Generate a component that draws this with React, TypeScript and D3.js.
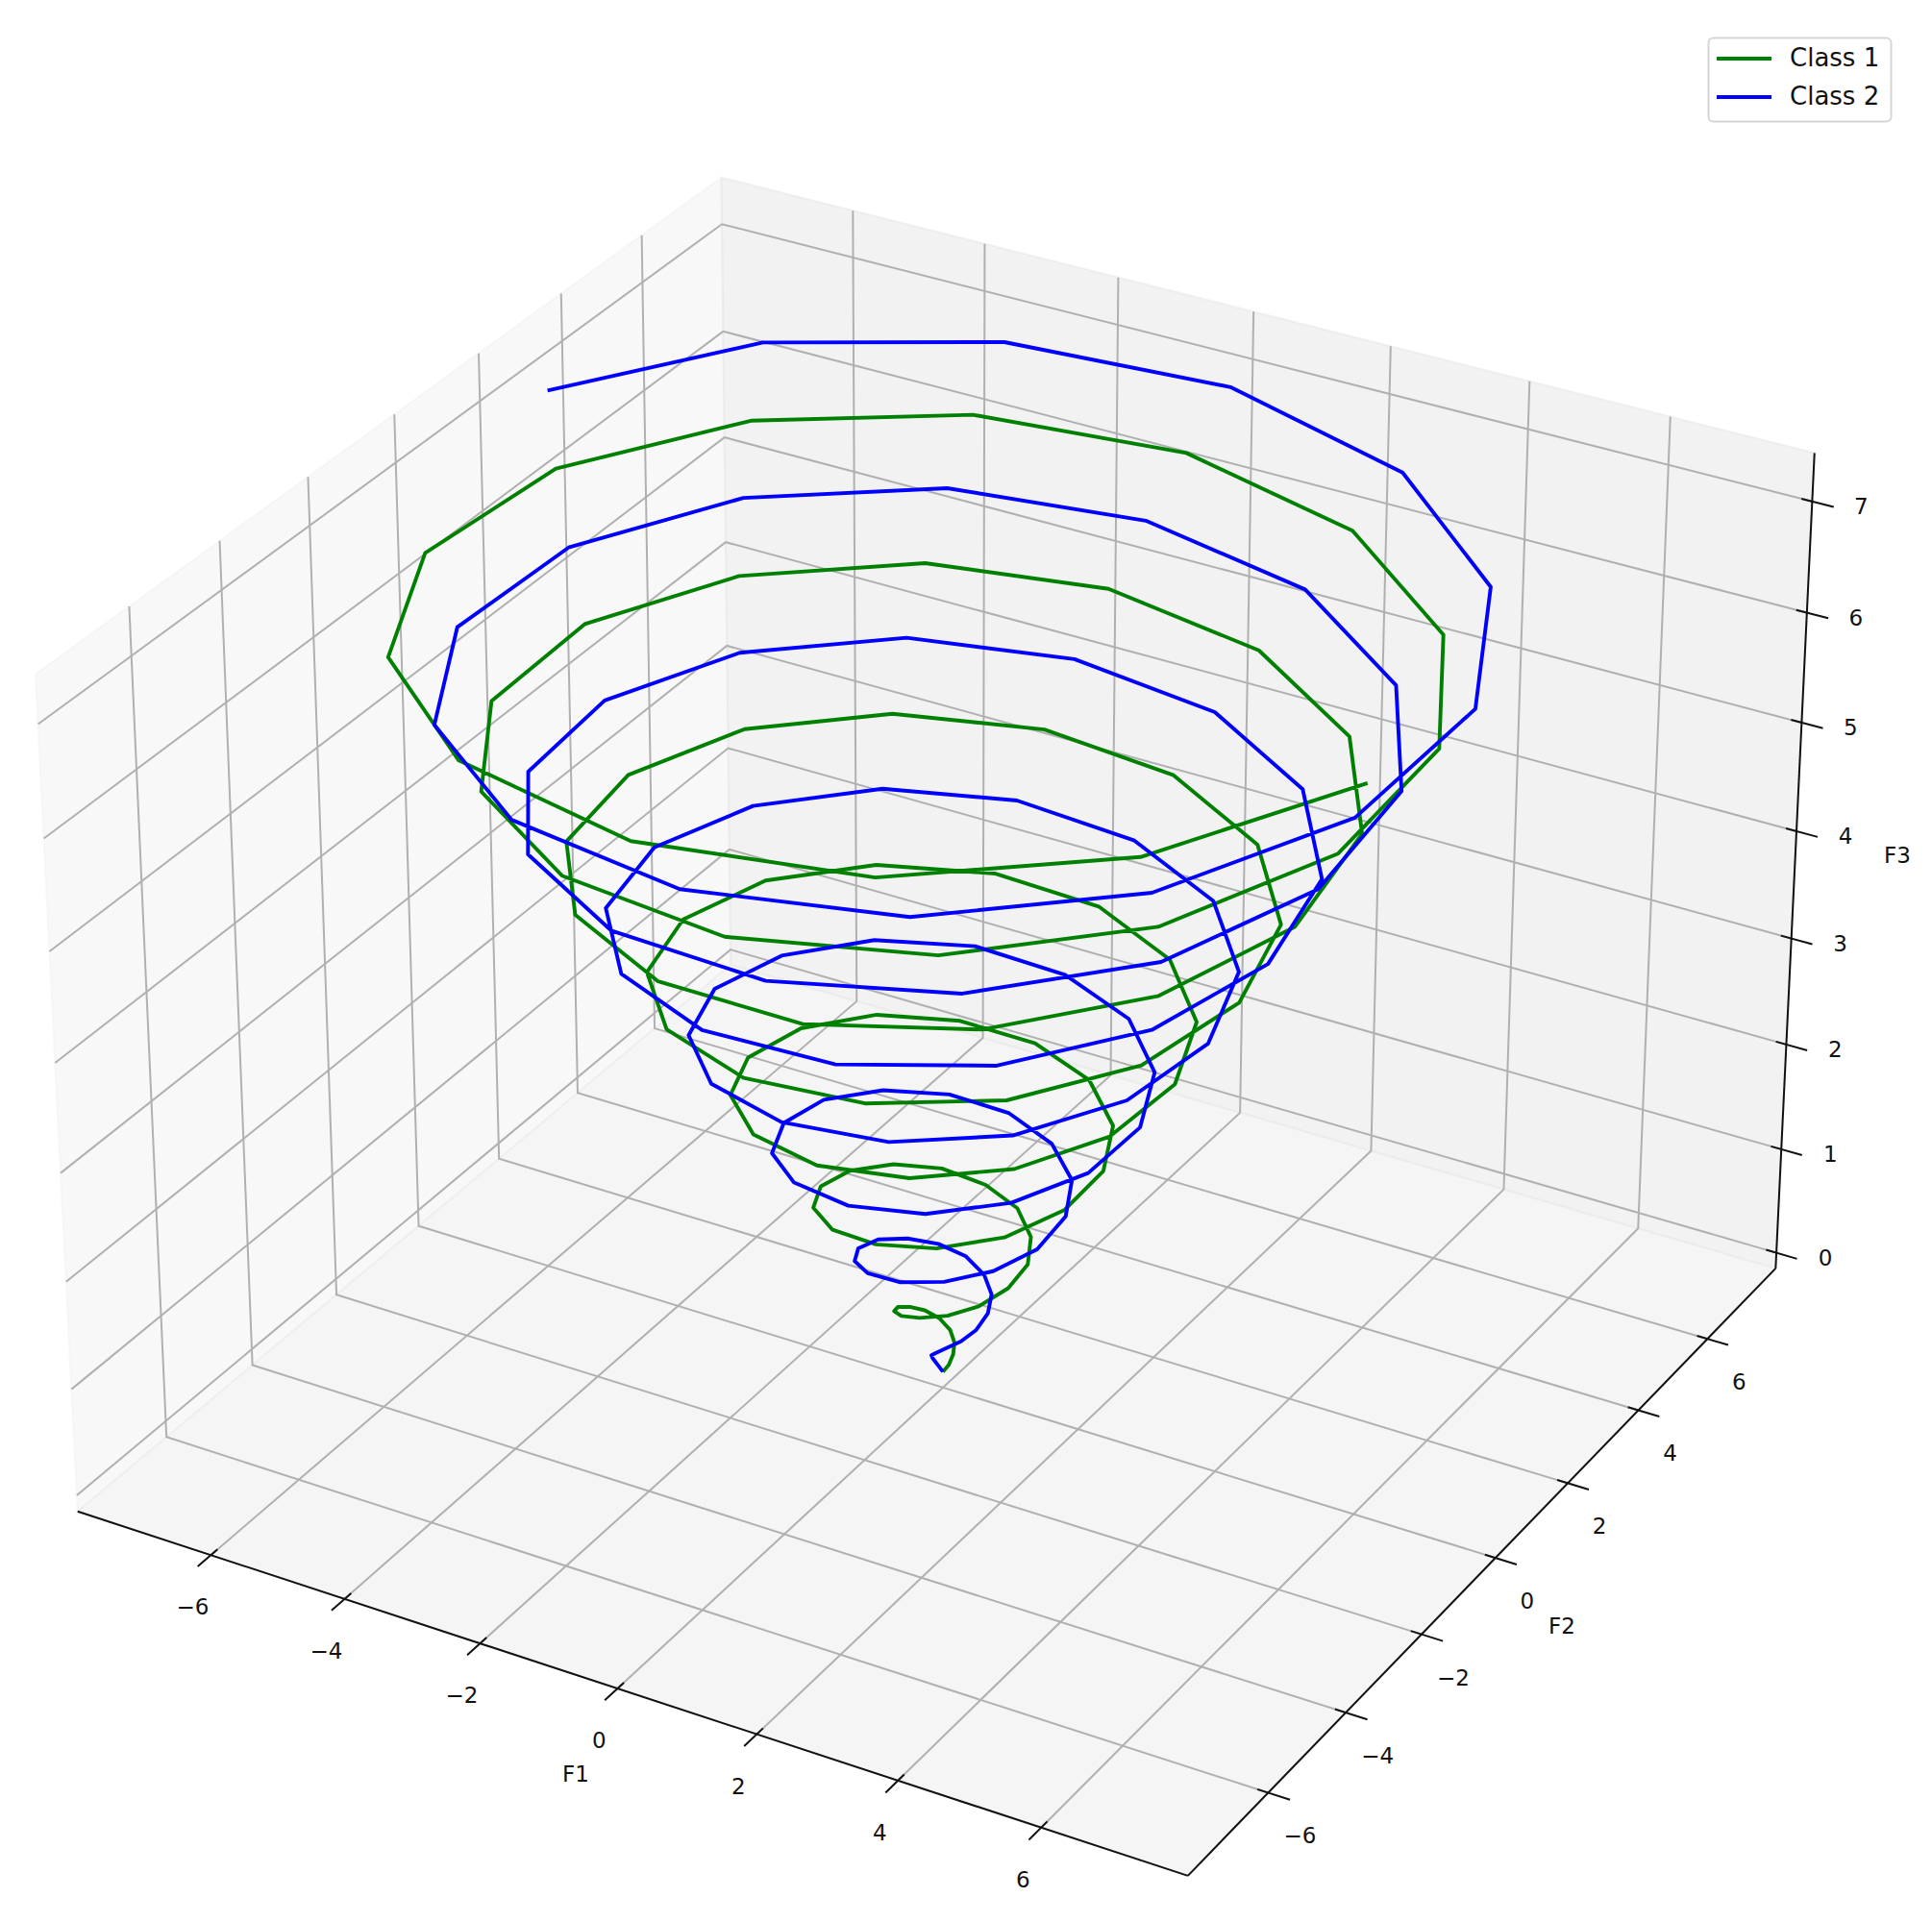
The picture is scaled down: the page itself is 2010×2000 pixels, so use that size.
import React from 'react';
import * as d3 from 'd3';

const class1X=[0.00,0.07,0.09,0.05,-0.06,-0.22,-0.39,-0.51,-0.54,-0.44,
-0.21,0.12,0.49,0.81,1.02,1.04,0.83,0.43,-0.12,-0.71,
-1.21,-1.52,-1.54,-1.26,-0.68,0.08,0.88,1.58,2.01,2.06,
1.71,0.99,0.02,-1.01,-1.91,-2.48,-2.59,-2.19,-1.34,-0.17,
1.09,2.20,2.93,3.12,2.70,1.73,0.38,-1.11,-2.45,-3.36,
-3.65,-3.23,-2.17,-0.63,1.09,2.65,3.76,4.17,3.78,2.64,
0.94,-1.00,-2.81,-4.13,-4.68,-4.34,-3.14,-1.29,0.87,2.92,
4.47,5.19,4.91,3.68,1.69,-0.68,-2.98,-4.77,-5.67,-5.49,
-4.24,-2.14,0.44,2.99,5.02,6.13,6.07,4.83,2.62,-0.14,
-2.95,-5.24,-6.57,-6.65,-5.44,-3.15,-0.21,2.84,5.41,6.97];
const class1Y=[0.00,0.03,0.11,0.21,0.29,0.29,0.21,0.03,-0.22,-0.49,
-0.70,-0.80,-0.73,-0.49,-0.10,0.37,0.82,1.17,1.31,1.20,
0.82,0.24,-0.46,-1.12,-1.62,-1.83,-1.69,-1.19,-0.42,0.50,
1.38,2.04,2.34,2.19,1.60,0.65,-0.49,-1.59,-2.44,-2.85,
-2.72,-2.04,-0.93,0.42,1.75,2.80,3.35,3.26,2.52,1.26,
-0.30,-1.87,-3.13,-3.83,-3.80,-3.03,-1.63,0.13,1.94,3.42,
4.29,4.35,3.56,2.05,0.09,-1.95,-3.67,-4.73,-4.90,-4.12,
-2.51,-0.37,1.91,3.88,5.15,5.45,4.70,3.01,0.69,-1.82,
-4.04,-5.53,-5.99,-5.29,-3.55,-1.07,1.67,4.15,5.88,6.51,
5.89,4.12,1.50,-1.47,-4.21,-6.20,-7.03,-6.51,-4.72,-1.97];
const class2X=[0.00,-0.07,-0.09,-0.05,0.06,0.22,0.39,0.51,0.54,0.44,
0.21,-0.12,-0.49,-0.81,-1.02,-1.04,-0.83,-0.43,0.12,0.71,
1.21,1.52,1.54,1.26,0.68,-0.08,-0.88,-1.58,-2.01,-2.06,
-1.71,-0.99,-0.02,1.01,1.91,2.48,2.59,2.19,1.34,0.17,
-1.09,-2.20,-2.93,-3.12,-2.70,-1.73,-0.38,1.11,2.45,3.36,
3.65,3.23,2.17,0.63,-1.09,-2.65,-3.76,-4.17,-3.78,-2.64,
-0.94,1.00,2.81,4.13,4.68,4.34,3.14,1.29,-0.87,-2.92,
-4.47,-5.19,-4.91,-3.68,-1.69,0.68,2.98,4.77,5.67,5.49,
4.24,2.14,-0.44,-2.99,-5.02,-6.13,-6.07,-4.83,-2.62,0.14,
2.95,5.24,6.57,6.65,5.44,3.15,0.21,-2.84,-5.41,-6.97];
const class2Y=[0.00,-0.03,-0.11,-0.21,-0.29,-0.29,-0.21,-0.03,0.22,0.49,
0.70,0.80,0.73,0.49,0.10,-0.37,-0.82,-1.17,-1.31,-1.20,
-0.82,-0.24,0.46,1.12,1.62,1.83,1.69,1.19,0.42,-0.50,
-1.38,-2.04,-2.34,-2.19,-1.60,-0.65,0.49,1.59,2.44,2.85,
2.72,2.04,0.93,-0.42,-1.75,-2.80,-3.35,-3.26,-2.52,-1.26,
0.30,1.87,3.13,3.83,3.80,3.03,1.63,-0.13,-1.94,-3.42,
-4.29,-4.35,-3.56,-2.05,-0.09,1.95,3.67,4.73,4.90,4.12,
2.51,0.37,-1.91,-3.88,-5.15,-5.45,-4.70,-3.01,-0.69,1.82,
4.04,5.53,5.99,5.29,3.55,1.07,-1.67,-4.15,-5.88,-6.51,
-5.89,-4.12,-1.50,1.47,4.21,6.20,7.03,6.51,4.72,1.97];
const heightZ=[0.00,0.07,0.15,0.22,0.29,0.37,0.44,0.51,0.59,0.66,
0.73,0.81,0.88,0.95,1.03,1.10,1.17,1.25,1.32,1.40,
1.47,1.54,1.62,1.69,1.76,1.84,1.91,1.98,2.06,2.13,
2.20,2.28,2.35,2.42,2.50,2.57,2.64,2.72,2.79,2.86,
2.94,3.01,3.08,3.16,3.23,3.30,3.38,3.45,3.52,3.60,
3.67,3.75,3.82,3.89,3.97,4.04,4.11,4.19,4.26,4.33,
4.41,4.48,4.55,4.63,4.70,4.77,4.85,4.92,4.99,5.07,
5.14,5.21,5.29,5.36,5.43,5.51,5.58,5.65,5.73,5.80,
5.87,5.95,6.02,6.10,6.17,6.24,6.32,6.39,6.46,6.54,
6.61,6.68,6.76,6.83,6.90,6.98,7.05,7.12,7.20,7.27];
const xyTicks=[-6,-4,-2,0,2,4,6];
const zTicks=[0,1,2,3,4,5,6,7];
const classNames=['Class 1','Class 2'];
const classColors=['#008000','#0000ff'];

const c1=class1X.map((x,i)=>[x,class1Y[i],heightZ[i]]);
const c2=class2X.map((x,i)=>[x,class2Y[i],heightZ[i]]);
const tf=(v:number)=>String(v).replace('-','\u2212');
const limXY=[-7.7,7.7],limZ=[0,7.28];
const ext=(a:number[])=>[a[0]-(a[1]-a[0])/48,a[1]+(a[1]-a[0])/48];
const [px0,px1]=ext(limXY),[py0,py1]=ext(limXY),[pz0,pz1]=ext(limZ);
const box=[1.1905,1.1905,0.8929];
const sx=d3.scaleLinear().domain(limXY).range([0,box[0]]);
const sy=d3.scaleLinear().domain(limXY).range([0,box[1]]);
const sz=d3.scaleLinear().domain(limZ).range([0,box[2]]);
const el=30*Math.PI/180,az=-60*Math.PI/180;
const R=box.map(b=>b/2);
const w=[Math.cos(el)*Math.cos(az),Math.cos(el)*Math.sin(az),Math.sin(el)];
const eye=R.map((r,i)=>r+10*w[i]);
const cross=(a:number[],b:number[])=>[a[1]*b[2]-a[2]*b[1],a[2]*b[0]-a[0]*b[2],a[0]*b[1]-a[1]*b[0]];
const nrm=(a:number[])=>{const n=Math.hypot(a[0],a[1],a[2]);return a.map(v=>v/n)};
const u=nrm(cross([0,0,1],w));const v=cross(w,u);
const dot=(a:number[],b:number[])=>a[0]*b[0]+a[1]*b[1]+a[2]*b[2];
const S=10666.9,OX=981,OY=1024;
function pr(x:number,y:number,z:number):[number,number]{
 const d=[sx(x)-eye[0],sy(y)-eye[1],sz(z)-eye[2]];
 const ze=-dot(d,w);
 return [OX+S*dot(d,u)/ze,OY-S*dot(d,v)/ze];
}
const line3=(pts:number[][])=>d3.line()(pts.map(p=>pr(p[0],p[1],p[2])))!;
const GRID='#b0b0b0',AX='#111';
const font='"DejaVu Sans"';
const lab={fontSize:23,textAnchor:'middle',dominantBaseline:'central',fill:'#111'} as any;
export default function App(){
 return <svg width={2010} height={2000} style={{position:'absolute',left:0,top:0}} fontFamily={font}>
  <path d={line3([[px0,py0,pz0],[px0,py1,pz0],[px0,py1,pz1],[px0,py0,pz1]])+'Z'} fill="rgb(242,242,242)" fillOpacity={0.5} stroke="rgb(242,242,242)" strokeOpacity={0.5} strokeWidth={2}/>
  <path d={line3([[px0,py1,pz0],[px1,py1,pz0],[px1,py1,pz1],[px0,py1,pz1]])+'Z'} fill="rgb(230,230,230)" fillOpacity={0.5} stroke="rgb(230,230,230)" strokeOpacity={0.5} strokeWidth={2}/>
  <path d={line3([[px0,py0,pz0],[px0,py1,pz0],[px1,py1,pz0],[px1,py0,pz0]])+'Z'} fill="rgb(236,236,236)" fillOpacity={0.5} stroke="rgb(236,236,236)" strokeOpacity={0.5} strokeWidth={2}/>
  {xyTicks.map(t=><path key={'gx'+t} d={line3([[t,py0,pz0],[t,py1,pz0],[t,py1,pz1]])} fill="none" stroke={GRID} strokeWidth={2}/>)}
  {xyTicks.map(t=><path key={'gy'+t} d={line3([[px0,t,pz1],[px0,t,pz0],[px1,t,pz0]])} fill="none" stroke={GRID} strokeWidth={2}/>)}
  {zTicks.map(t=><path key={'gz'+t} d={line3([[px1,py1,t],[px0,py1,t],[px0,py0,t]])} fill="none" stroke={GRID} strokeWidth={2}/>)}
  <path d={line3([[px0,py0,pz0],[px1,py0,pz0]])} stroke={AX} strokeWidth={2}/>
  <path d={line3([[px1,py0,pz0],[px1,py1,pz0]])} stroke={AX} strokeWidth={2}/>
  <path d={line3([[px1,py1,pz0],[px1,py1,pz1]])} stroke={AX} strokeWidth={2}/>
  {xyTicks.map(t=>{const p=pr(t,py0,pz0);return <g key={'tx'+t}><path d={line3([[t,py0+0.15,pz0],[t,py0-0.3,pz0]])} stroke={AX} strokeWidth={2}/><text x={p[0]-19} y={p[1]+54} {...lab}>{tf(t)}</text></g>})}
  {xyTicks.map(t=>{const p=pr(px1,t,pz0);return <g key={'ty'+t}><path d={line3([[px1-0.15,t,pz0],[px1+0.3,t,pz0]])} stroke={AX} strokeWidth={2}/><text x={p[0]+33} y={p[1]+45} {...lab}>{tf(t)}</text></g>})}
  {zTicks.map(t=>{const p=pr(px1,py1,t);return <g key={'tz'+t}><path d={line3([[px1-0.15,py1,t],[px1+0.3,py1,t]])} stroke={AX} strokeWidth={2}/><text x={p[0]+51} y={p[1]+5} {...lab}>{tf(t)}</text></g>})}
  <text x={599} y={1846} {...lab}>F1</text>
  <text x={1625} y={1692} {...lab}>F2</text>
  <text x={1974} y={890} {...lab}>F3</text>
  <path d={line3(c1)} fill="none" stroke={classColors[0]} strokeWidth={3.9} strokeLinejoin="round"/>
  <path d={line3(c2)} fill="none" stroke={classColors[1]} strokeWidth={3.9} strokeLinejoin="round"/>
  <rect x={1777.5} y={39.5} width={190} height={87} rx={5} fill="#fff" fillOpacity={0.8} stroke="#d5d5d5" strokeWidth={2}/>
  {classNames.map((name,i)=><g key={name}>
   <path d={`M1786,${61+i*40}H1843`} stroke={classColors[i]} strokeWidth={3.9}/>
   <text x={1862} y={69+i*40} fontSize={26} fill="#111">{name}</text>
  </g>)}
 </svg>;
}
